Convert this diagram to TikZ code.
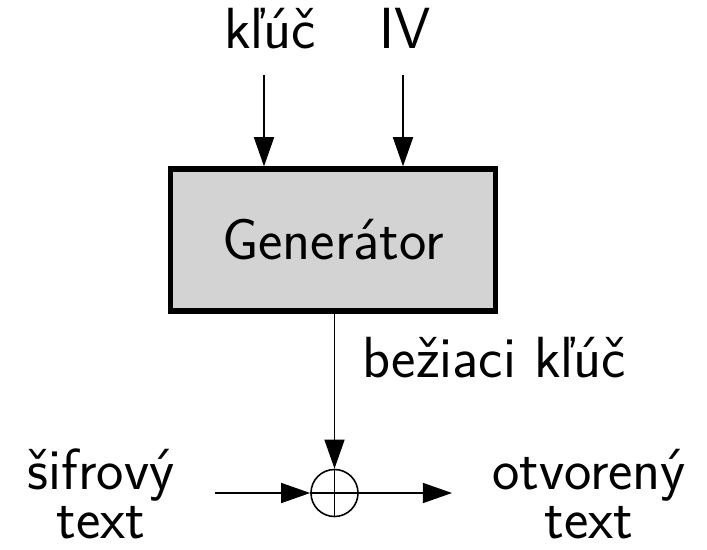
\documentclass[tikz,border=0pt]{standalone}
\usepackage{fontspec}
\usepackage{tikz}
\usetikzlibrary{arrows.meta}
\definecolor{genfill}{RGB}{211,211,211}

\begin{document}
\begin{tikzpicture}[x=0.01cm, y=-0.01cm,
  font=\sffamily\fontsize{16.5}{14}\selectfont,
  lbl/.style={inner sep=0pt, anchor=base},
  genbox/.style={draw, line width=1.6pt, fill=genfill, minimum width=3.25cm, minimum height=1.415cm, inner sep=0pt},
  flow/.style={line width=0.45pt, -{Triangle[length=8.3pt, width=5.7pt]}},
  xorsym/.style={circle, draw, line width=0.45pt, minimum size=0.47cm, inner sep=0pt}]
\useasboundingbox (0,0) rectangle (707,549);

% Generator with key and IV
\node[genbox] (gen) at (333,240) {Generátor};
\node[lbl] (kluc) at (270,49) {kľúč};
\node[lbl] (iv) at (405,49) {IV};
\coordinate (kin) at (264,75);
\coordinate (ivin) at (403,75);
\draw[flow] (kin) -- (kin |- gen.north);
\draw[flow] (ivin) -- (ivin |- gen.north);

% XOR with keystream
\node[xorsym] (xor) at (334.5,493) {};
\draw[line width=0.45pt] (xor.north) -- (xor.south) (xor.west) -- (xor.east);
\draw[flow] (xor.north |- gen.south) -- node[pos=0.41, anchor=base west, xshift=0.27cm, inner sep=0pt] {bežiaci kľúč} (xor.north);

% Input and output
\node[align=center] (sifr) at (101,494) {šifrový\\text};
\node[align=center] (otv) at (589,494) {otvorený\\text};
\coordinate (cin) at (215,493);
\coordinate (pout) at (452,493);
\draw[flow] (cin) -- (xor.west);
\draw[flow] (xor.east) -- (pout);

\end{tikzpicture}
\end{document}
